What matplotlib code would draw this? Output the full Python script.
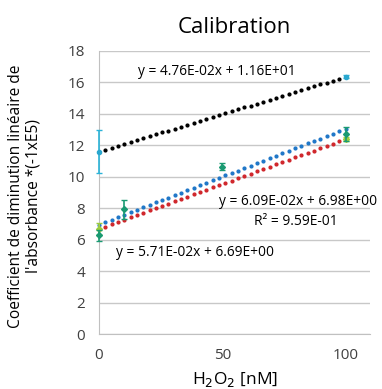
import numpy as np
import matplotlib
matplotlib.use('Agg')
import matplotlib.pyplot as plt

plt.rcParams['font.family'] = ['Open Sans', 'DejaVu Sans']

# series 1 (black trendline, cyan error bars)
x1 = [0, 100]
y1 = [11.6, 16.36]
e1 = [1.35, 0.1]

# series 2 (teal points, blue trendline)
x2 = [0, 10, 50, 100]
y2 = [6.3, 7.95, 10.65, 12.7]
e2 = [0.35, 0.6, 0.2, 0.45]

# series 3 (light green points, red trendline)
x3 = [0, 100]
y3 = [6.69, 12.4]
e3 = [0.4, 0.15]

fig = plt.figure(figsize=(3.82, 3.89), dpi=100)
ax = fig.add_axes([0.259, 0.141, 0.71, 0.728])

# trendlines from linear fits
xs = np.linspace(0, 100, 40)
for xx, yy, c in [(x1, y1, 'black'), (x2, y2, '#1f77c8'), (x3, y3, '#d0262b')]:
    p = np.polyfit(xx, yy, 1)
    ax.plot(xs, np.polyval(p, xs), ls='none', marker='o', ms=2.0, color=c,
            zorder=2, clip_on=False)

for xx, yy, ee, fc, ec, mk, z in [(x1, y1, e1, '#2aa7cf', '#2ab3d8', 'o', 3),
                                  (x2, y2, e2, '#1a9a72', '#1a9a72', 'D', 4),
                                  (x3, y3, e3, '#9ccc3c', '#9ccc3c', 'D', 3)]:
    eb = ax.errorbar(xx, yy, yerr=ee, fmt=mk, ms=3, color=fc, ecolor=ec,
                     elinewidth=1.2, capsize=2, zorder=z)
    for art in eb.lines[0:1] + tuple(eb.lines[1]) + tuple(eb.lines[2]):
        art.set_clip_on(False)

fs = 9.9
ax.text(48, 16.7, 'y = 4.76E-02x + 1.16E+01', ha='center', va='center', fontsize=fs)
ax.text(113, 8.45, 'y = 6.09E-02x + 6.98E+00', ha='right', va='center', fontsize=fs)
ax.text(80, 7.15, 'R² = 9.59E-01', ha='center', va='center', fontsize=fs)
ax.text(7, 5.18, 'y = 5.71E-02x + 6.69E+00', ha='left', va='center', fontsize=fs)

ax.set_xlim(0, 110)
ax.set_ylim(0, 18)
ax.set_xticks([0, 50, 100])
ax.set_yticks(range(0, 19, 2))
ax.grid(axis='y', color='#c8c8c8', lw=1)
ax.set_axisbelow(True)
for s in ['top', 'right']:
    ax.spines[s].set_visible(False)
ax.spines['left'].set_color('#c0c0c0')
ax.spines['bottom'].set_color('#c0c0c0')
ax.tick_params(length=0, labelsize=11, colors='#404040', pad=10)

ax.set_title('Calibration', fontsize=16, pad=13)
ax.set_xlabel('H$_2$O$_2$ [nM]', fontsize=12.5, labelpad=5)
fig.text(0.064, 0.495, "Coefficient de diminution linéaire de\nl'absorbance *(-1xE5)",
         rotation=90, ha='center', va='center', fontsize=11.2, linespacing=1.15)

plt.savefig('out.png', dpi=100)
